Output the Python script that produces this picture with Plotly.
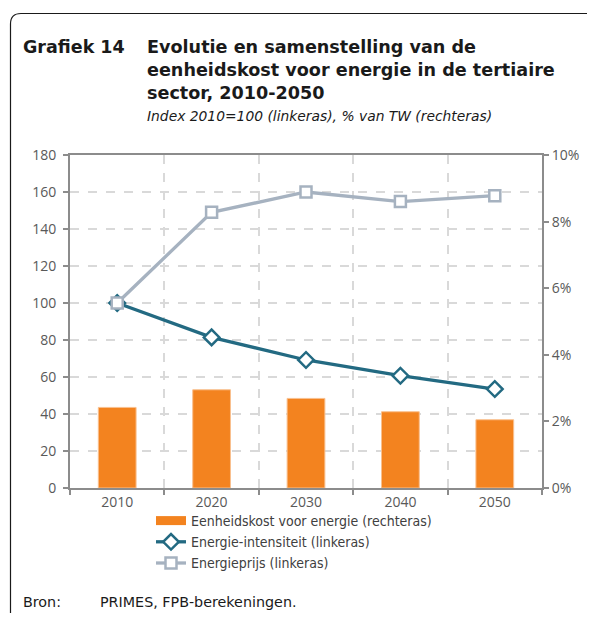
import plotly.graph_objects as go

years = ["2010", "2020", "2030", "2040", "2050"]
eenheidskost = [0.0242, 0.0295, 0.0269, 0.0229, 0.0205]   # right axis, share of TW
intensiteit = [100, 81.4, 69.2, 60.7, 53.5]                 # left axis, index
energieprijs = [100, 149, 160, 154.8, 158]                  # left axis, index

# the page places the figure 8 px from the top-left corner of the window
OFF = 8
W, H = 595 - OFF, 617 - OFF
# target plot area in window pixels: x 70..542, y 155..488
L, T = 70 - OFF, 155 - OFF
PW, PH = 472, 333
R = W - L - PW
B = H - T - PH


def px(x):
    return (x - OFF - L) / PW


def py(y):
    return (T + PH - (y - OFF)) / PH


AX = "#8C8C8C"
TXT = "#404040"
TICKF = dict(family="Open Sans, Liberation Sans, sans-serif", size=14, color="#595959")
ORANGE = "#F3831F"
DARK = "#236A82"
LIGHT = "#A6B2C0"

fig = go.Figure()
# legend entry for bars (wide orange band like the original)
fig.add_trace(go.Scatter(
    x=[None], y=[None], name="Eenheidskost voor energie (rechteras)", mode="lines",
    line=dict(color=ORANGE, width=9), legendgroup="bar", showlegend=True,
))
fig.add_trace(go.Bar(
    x=years, y=eenheidskost, name="Eenheidskost voor energie (rechteras)",
    yaxis="y2", width=0.4, showlegend=False, legendgroup="bar",
    marker=dict(color=ORANGE, line=dict(color="#F9C08F", width=1)),
))
fig.add_trace(go.Scatter(
    x=years, y=intensiteit, name="Energie-intensiteit (linkeras)", mode="lines+markers",
    line=dict(color=DARK, width=3.3),
    marker=dict(symbol="diamond", size=12, color="white", line=dict(color=DARK, width=2.5)),
))
fig.add_trace(go.Scatter(
    x=years, y=energieprijs, name="Energieprijs (linkeras)", mode="lines+markers",
    line=dict(color=LIGHT, width=3.3),
    marker=dict(symbol="square", size=11, color="white", line=dict(color=LIGHT, width=2.5)),
))

fig.update_layout(
    width=W, height=H,
    margin=dict(l=L, r=R, t=T, b=B, autoexpand=False),
    paper_bgcolor="white", plot_bgcolor="white",
    showlegend=True,
    legend=dict(
        x=px(151), y=py(505), xanchor="left", yanchor="top",
        font=dict(family="DejaVu Sans Condensed, DejaVu Sans, sans-serif", size=14, color=TXT),
        traceorder="normal", tracegroupgap=0,
        bgcolor="rgba(0,0,0,0)",
    ),
    xaxis=dict(
        type="category", tickson="boundaries",
        showline=True, linecolor=AX, linewidth=2, mirror=True,
        ticks="outside", ticklen=5, tickcolor=AX, tickwidth=1.5,
        showgrid=True, gridcolor="#D9D9D9", griddash="dash", gridwidth=1.5,
        tickfont=TICKF,
    ),
    yaxis=dict(
        range=[0, 180], dtick=20,
        showline=True, linecolor=AX, linewidth=2,
        ticks="outside", ticklen=5, tickcolor=AX, tickwidth=1.5,
        showgrid=True, gridcolor="#D9D9D9", griddash="dash", gridwidth=1.5,
        zeroline=False, tickfont=TICKF, ticklabelstandoff=4,
    ),
    yaxis2=dict(
        range=[0, 0.1], dtick=0.02, tickformat=".0%",
        overlaying="y", side="right",
        showline=True, linecolor=AX, linewidth=2,
        ticks="outside", ticklen=5, tickcolor=AX, tickwidth=1.5,
        showgrid=False, zeroline=False, tickfont=TICKF,
    ),
)

TF = "DejaVu Sans, Verdana, sans-serif"
title_lines = [
    ("Evolutie en samenstelling van de", 47),
    ("eenheidskost voor energie in de tertiaire", 70),
    ("sector, 2010-2050", 93),
]
fig.add_annotation(x=px(21), y=py(47), xref="paper", yref="paper", xanchor="left", yanchor="middle",
                   text="<b>Grafiek 14</b>", showarrow=False,
                   font=dict(family=TF, size=17.5, color="#1A1A1A"))
for t, yy in title_lines:
    fig.add_annotation(x=px(145), y=py(yy), xref="paper", yref="paper", xanchor="left", yanchor="middle",
                       text=f"<b>{t}</b>", showarrow=False,
                       font=dict(family=TF, size=17.6, color="#1A1A1A"))
fig.add_annotation(x=px(145), y=py(116), xref="paper", yref="paper", xanchor="left", yanchor="middle",
                   text="<i>Index 2010=100 (linkeras), % van TW (rechteras)</i>", showarrow=False,
                   font=dict(family=TF, size=13.85, color="#1A1A1A"))
fig.add_annotation(x=px(21), y=py(602), xref="paper", yref="paper", xanchor="left", yanchor="middle",
                   text="Bron:", showarrow=False, font=dict(family=TF, size=14.3, color="#1A1A1A"))
fig.add_annotation(x=px(98), y=py(602), xref="paper", yref="paper", xanchor="left", yanchor="middle",
                   text="PRIMES, FPB-berekeningen.", showarrow=False,
                   font=dict(family=TF, size=14.3, color="#1A1A1A"))

# frame around the chart (top and left edges, rounded corner)
path = (f"M {px(10.5)},{py(613)} L {px(10.5)},{py(24)} "
        f"Q {px(10.5)},{py(13.5)} {px(21)},{py(13.5)} L {px(600)},{py(13.5)}")
fig.add_shape(type="path", path=path, xref="paper", yref="paper",
              line=dict(color="#1A1A1A", width=1.2), layer="above")

fig.write_html("out.html")
